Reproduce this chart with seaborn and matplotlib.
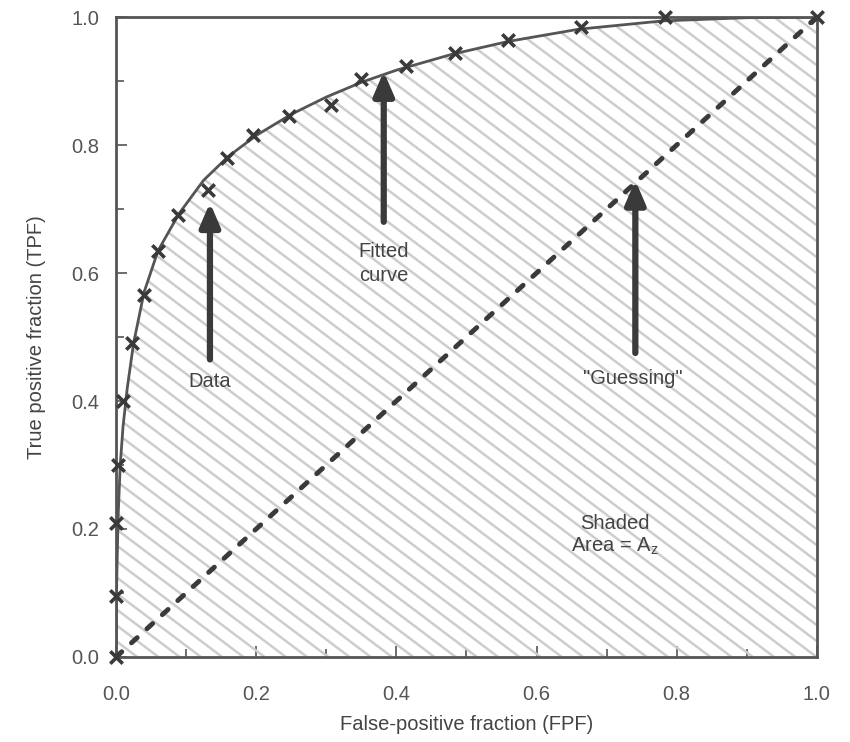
import numpy as np
import pandas as pd
import seaborn as sns
import matplotlib.pyplot as plt
from matplotlib.ticker import MultipleLocator
from matplotlib.collections import LineCollection

# data points (x markers)
fpf_data = [0.0, 0.0, 0.0, 0.003, 0.01, 0.023, 0.04, 0.06, 0.089, 0.131, 0.159,
            0.196, 0.247, 0.307, 0.35, 0.414, 0.483, 0.559, 0.664, 0.783, 1.0]
tpf_data = [0.0, 0.095, 0.21, 0.30, 0.40, 0.49, 0.565, 0.635, 0.69, 0.73, 0.78,
            0.815, 0.845, 0.862, 0.903, 0.923, 0.944, 0.964, 0.984, 1.0, 1.0]

# fitted curve
fpf_fit = [0.0, 0.001, 0.003, 0.006, 0.01, 0.016, 0.025, 0.04, 0.06, 0.09, 0.125,
           0.16, 0.2, 0.25, 0.3, 0.35, 0.4, 0.48, 0.56, 0.66, 0.78, 0.9, 1.0]
tpf_fit = [0.0, 0.12, 0.22, 0.30, 0.36, 0.42, 0.49, 0.57, 0.635, 0.693, 0.745,
           0.782, 0.815, 0.848, 0.875, 0.898, 0.917, 0.942, 0.962, 0.981, 0.994, 0.999, 1.0]

guess = [0.0, 1.0]

sns.set_style('ticks')
plt.rcParams['font.family'] = ['Liberation Sans', 'DejaVu Sans']

fig = plt.figure(figsize=(8.5, 7.42), dpi=100)
ax = fig.add_axes([0.1365, 0.1146, 0.8245, 0.8624])

ink = '#3a3a3a'

# shaded area under the fitted curve (invisible polygon used as clip for the hatching)
area = ax.fill_between(fpf_fit, tpf_fit, 0, facecolor='none', linewidth=0, zorder=1)

# slanted hatch lines, like the scanned figure
w_px, h_px = 701.0, 640.0
slope = np.tan(np.radians(37))
step = 16.0
segs = []
for c in np.arange(0, h_px + w_px * slope + step, step):
    segs.append([(0, c / h_px), (1, (c - slope * w_px) / h_px)])
hatch = LineCollection(segs, colors='#cdcdcd', linewidths=1.8, transform=ax.transAxes, zorder=1)
ax.add_collection(hatch)
hatch.set_clip_path(area.get_paths()[0], ax.transData)

fit_df = pd.DataFrame({'FPF': fpf_fit, 'TPF': tpf_fit})
sns.lineplot(data=fit_df, x='FPF', y='TPF', sort=False, color='#555555',
             linewidth=2, ax=ax, zorder=3)

ax.plot(guess, guess, color=ink, linewidth=3.5, linestyle=(0, (1.6, 2.7)),
        dash_capstyle='round', zorder=3)

data_df = pd.DataFrame({'FPF': fpf_data, 'TPF': tpf_data})
sns.scatterplot(data=data_df, x='FPF', y='TPF', marker='x', s=80, color=ink,
                linewidth=2.6, ax=ax, zorder=4, clip_on=False)

arrow = dict(arrowstyle='-|>,head_length=1.4,head_width=0.6', lw=4.5, color=ink,
             shrinkA=0, shrinkB=0)
txt = dict(ha='center', va='center', fontsize=14.5, color='#444444')

ax.annotate('', xy=(0.134, 0.71), xytext=(0.134, 0.465), arrowprops=arrow, zorder=5)
ax.text(0.134, 0.43, 'Data', **txt)

ax.annotate('', xy=(0.382, 0.915), xytext=(0.382, 0.68), arrowprops=arrow, zorder=5)
ax.text(0.382, 0.615, 'Fitted\ncurve', linespacing=1.3, **txt)

ax.annotate('', xy=(0.741, 0.745), xytext=(0.741, 0.475), arrowprops=arrow, zorder=5)
ax.text(0.738, 0.435, '"Guessing"', **txt)

ax.text(0.712, 0.19, 'Shaded\nArea = A$_\\mathregular{z}$', linespacing=1.2, **txt)

ax.set_xlim(0, 1)
ax.set_ylim(0, 1)
ax.xaxis.set_major_locator(MultipleLocator(0.2))
ax.yaxis.set_major_locator(MultipleLocator(0.2))
ax.xaxis.set_minor_locator(MultipleLocator(0.1))
ax.yaxis.set_minor_locator(MultipleLocator(0.1))
ax.tick_params(which='both', direction='in', colors='#555555', labelsize=14.5, width=1.2)
ax.tick_params(which='major', length=8)
ax.tick_params(which='minor', length=6)
ax.tick_params(axis='x', pad=20)
ax.tick_params(axis='y', pad=12)
ax.xaxis.set_major_formatter(plt.FormatStrFormatter('%.1f'))
ax.yaxis.set_major_formatter(plt.FormatStrFormatter('%.1f'))
for sp in ax.spines.values():
    sp.set_color('#555555')
    sp.set_linewidth(2)

ax.set_xlabel('False-positive fraction (FPF)', fontsize=14.5, color='#444444', labelpad=8)
ax.set_ylabel('True positive fraction (TPF)', fontsize=14.5, color='#444444', labelpad=18)

fig.savefig('out.png', dpi=100)
